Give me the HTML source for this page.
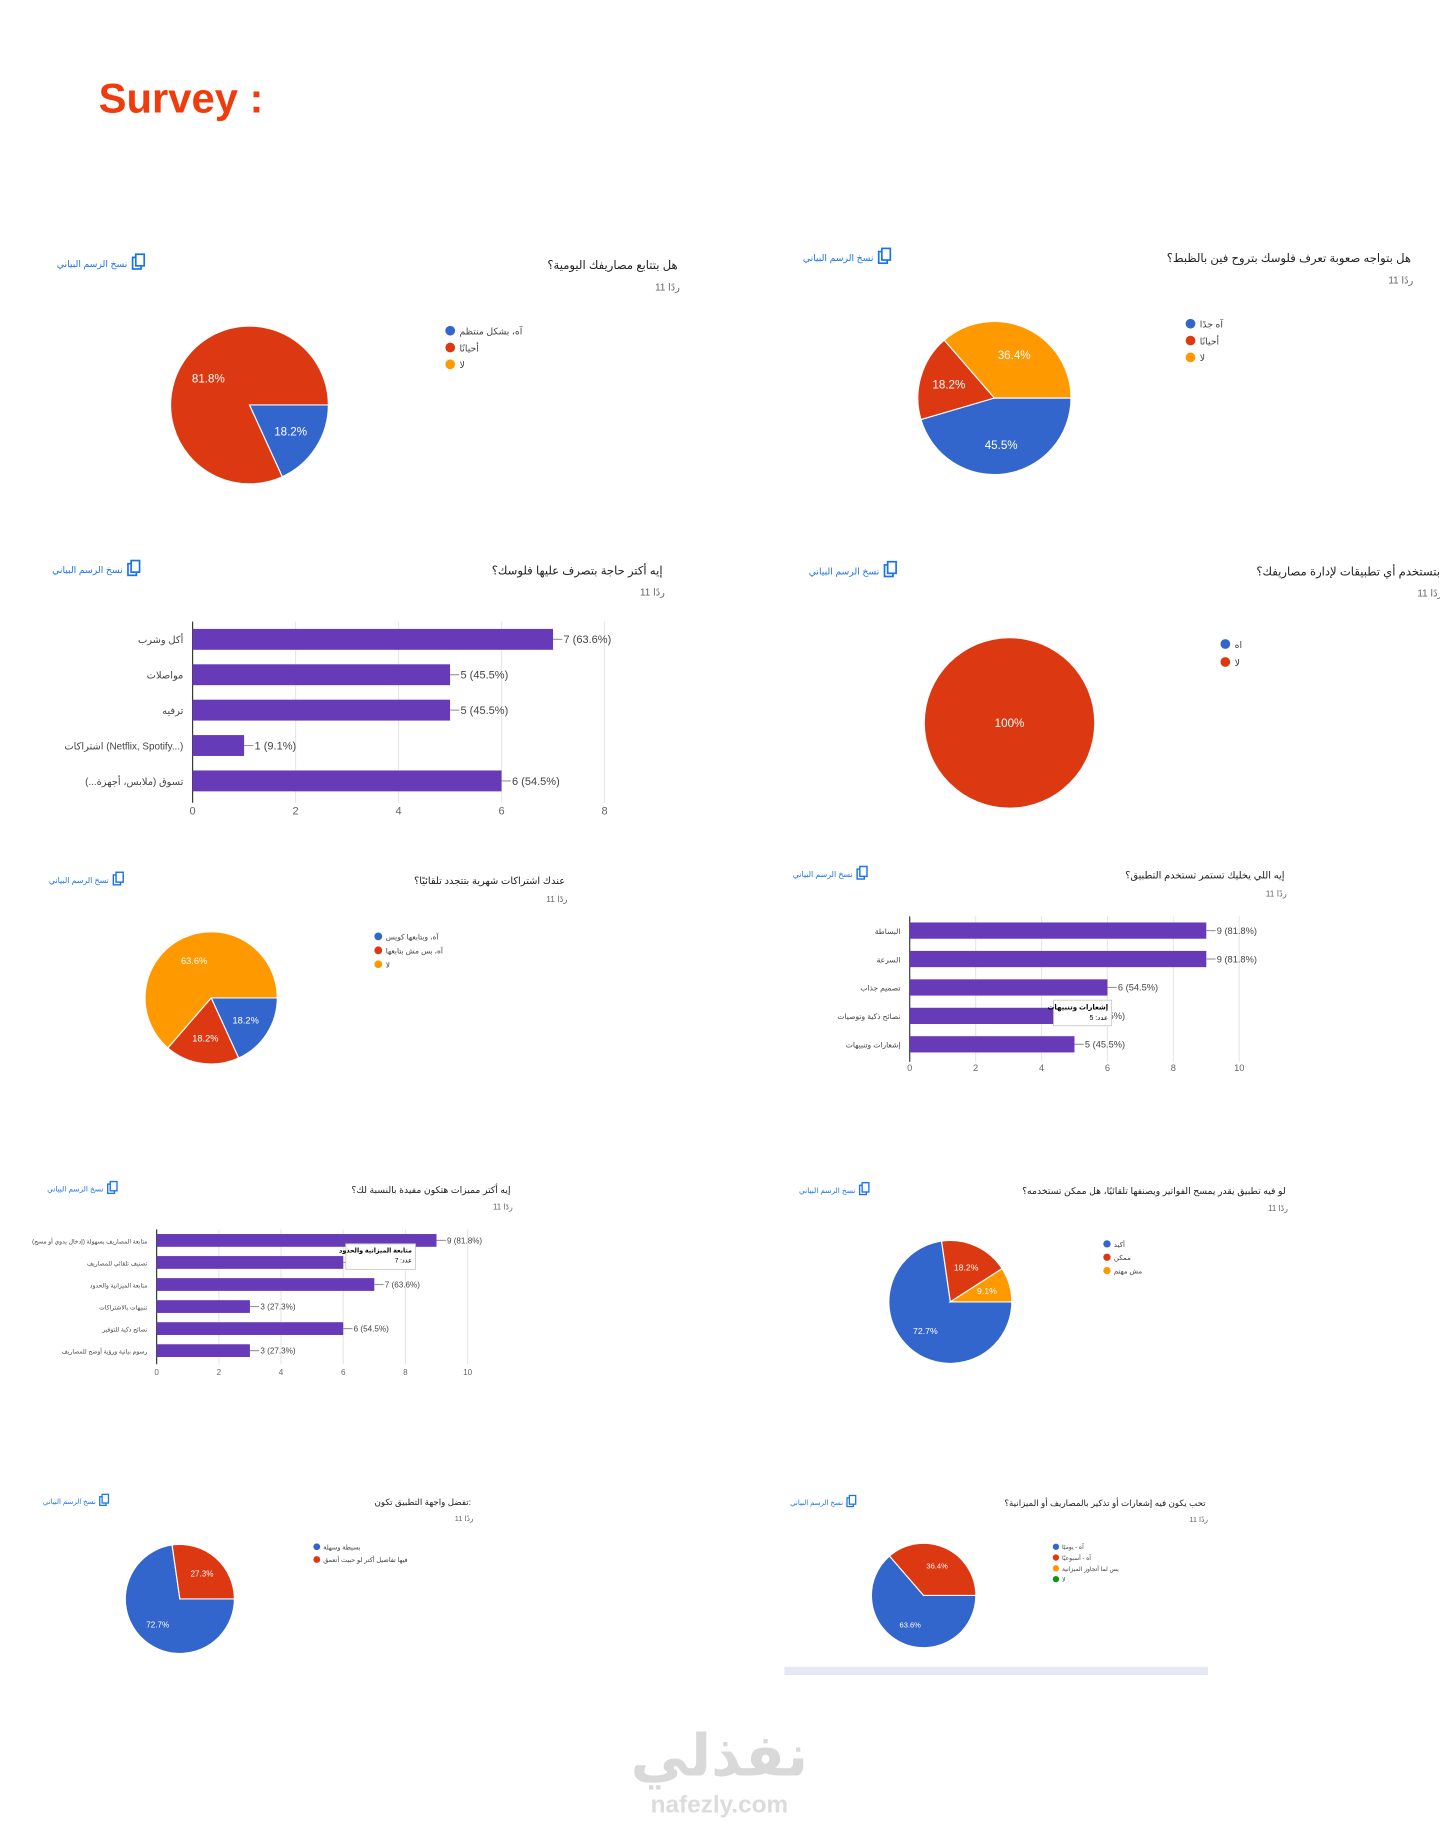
<!DOCTYPE html>
<html><head><meta charset="utf-8">
<style>
html,body{margin:0;padding:0;background:#fff;}
body{width:1440px;height:1820px;overflow:hidden;font-family:"Liberation Sans","DejaVu Sans",sans-serif;}
#wrap{position:absolute;left:0;top:0;width:1241px;height:1568px;transform:scale(1.16035);transform-origin:0 0;}
svg text{font-family:"Liberation Sans","DejaVu Sans",sans-serif;}
</style></head>
<body>
<div id="wrap">
<svg id="s" width="1241" height="1568" viewBox="0 0 1241 1568">
<text x="85" y="97" font-size="36" font-weight="bold" fill="#f03c0c">Survey :</text>
<line x1="676" y1="1440" x2="1041" y2="1440" stroke="#e6e8f4" stroke-width="7"/>
<text x="620" y="1530" font-size="50" font-weight="bold" fill="#d9d9d9" text-anchor="middle">نفذلي</text>
<text x="620" y="1562" font-size="21" font-weight="bold" fill="#dcdcdc" text-anchor="middle">nafezly.com</text>
</svg>
</div>
<script>
// ---- data ----
const pieAValues=[2,9,0];
const pieALabels=["آه، بشكل منتظم","أحيانًا","لا"];
const pieBValues=[5,2,4];
const pieBLabels=["آه جدًا","أحيانًا","لا"];
const pieDValues=[0,11];
const pieDLabels=["اه","لا"];
const pieEValues=[2,2,7];
const pieELabels=["آه، وبتابعها كويس","آه، بس مش بتابعها","لا"];
const pieHValues=[8,2,1];
const pieHLabels=["أكيد","ممكن","مش مهتم"];
const pieIValues=[8,3];
const pieILabels=["بسيطة وسهلة","فيها تفاصيل أكتر لو حبيت أتعمق"];
const pieJValues=[7,4,0,0];
const pieJLabels=["آه - يوميًا","آه - أسبوعيًا","بس لما أتجاوز الميزانية","لا"];
const barCCats=["أكل وشرب","مواصلات","ترفيه","اشتراكات (Netflix, Spotify...)","تسوق (ملابس، أجهزة...)"];
const barCValues=[7,5,5,1,6];
const barCTicks=[0,2,4,6,8];
const barFCats=["البساطة","السرعة","تصميم جذاب","نصائح ذكية وتوصيات","إشعارات وتنبيهات"];
const barFValues=[9,9,6,5,5];
const barFTicks=[0,2,4,6,8,10];
const barGCats=["متابعة المصاريف بسهولة (إدخال يدوي أو مسح)","تصنيف تلقائي للمصاريف","متابعة الميزانية والحدود","تنبيهات بالاشتراكات","نصائح ذكية للتوفير","رسوم بيانية ورؤية أوضح للمصاريف"];
const barGValues=[9,6,7,3,6,3];
const barGTicks=[0,2,4,6,8,10];
const TOTAL=11;
const COLORS=["#3366cc","#dc3912","#ff9900","#109618"];

const NS="http://www.w3.org/2000/svg";
const svg=document.getElementById('s');
function mk(tag,attrs,parent){const e=document.createElementNS(NS,tag);for(const k in attrs)e.setAttribute(k,attrs[k]);(parent||svg).appendChild(e);return e;}
function txt(x,y,s,size,fill,anchor,parent){const t=mk('text',{x:x,y:y,'font-size':size,fill:fill,'text-anchor':anchor||'start'},parent);t.textContent=s;return t;}

function header(g,titleX,titleY,title,linkX,iconX,linkY,fs){
  const t=txt(titleX,titleY,title,fs,'#202124','end',g);
  
  
  const r=txt(titleX+2,titleY+20*fs/11,'11 ردًا',fs*0.85,'#5f6368','end',g);
  
  
  const s=fs/11;
  const l=txt(iconX-8*s,linkY,'نسخ الرسم البياني',fs*0.8,'#1a73e8','end',g);
  
  
  const ic=mk('g',{},g);
  
  
  mk('rect',{x:iconX-3*s,y:linkY-9*s,width:8*s,height:11*s,fill:'none',stroke:'#1a73e8','stroke-width':1.6*s},ic);
  mk('rect',{x:iconX,y:linkY-12*s,width:8*s,height:11*s,fill:'#fff',stroke:'#1a73e8','stroke-width':1.6*s},ic);
}

function pie(name,values,labels,cx,cy,r,legX,legY,legGap,fs){
  const g=mk('g',{});
  
  
  const tot=values.reduce((a,b)=>a+b,0);
  let a=90;
  values.forEach((v,i)=>{
    if(v<=0)return;
    const sweep=v/tot*360;
    let el;
    if(sweep>=359.99){
      el=mk('circle',{cx:cx,cy:cy,r:r,fill:COLORS[i]},g);
    }else{
      const a1=a*Math.PI/180,a2=(a+sweep)*Math.PI/180;
      const x1=cx+r*Math.sin(a1),y1=cy-r*Math.cos(a1),x2=cx+r*Math.sin(a2),y2=cy-r*Math.cos(a2);
      el=mk('path',{d:`M${cx},${cy}L${x1},${y1}A${r},${r} 0 ${sweep>180?1:0} 1 ${x2},${y2}Z`,fill:COLORS[i],stroke:'#fff','stroke-width':1},g);
    }
    
    
    const m=(a+sweep/2)*Math.PI/180;
    const lr=sweep>=359.99?0:r*0.62;
    const t=txt(cx+lr*Math.sin(m),cy-lr*Math.cos(m)+fs*0.35,(v/tot*100).toFixed(1).replace('.0','')+'%',fs,'#fff','middle',g);
    if(sweep>=359.99)t.textContent='100%';
    
    
    a+=sweep;
  });
  labels.forEach((s,i)=>{
    const d=mk('circle',{cx:legX,cy:legY+i*legGap,r:fs*0.42,fill:COLORS[i]},g);
    
    
    const t=txt(legX+fs*0.8,legY+i*legGap+fs*0.33,s,fs*0.8,'#444','start',g);
    
    
  });
}

function bars(name,cats,values,ticks,x0,x1,yTop,step,bh,tickY,fs,catFs){
  const g=mk('g',{});
  
  
  const maxT=ticks[ticks.length-1];
  const X=v=>x0+(x1-x0)*v/maxT;
  const yEnd=yTop+step*cats.length-step*0.5+bh*0.2;
  ticks.forEach(t=>{
    if(t>0){const gl=mk('line',{x1:X(t),x2:X(t),y1:yTop-step*0.5,y2:yEnd,stroke:'#e8e8e8','stroke-width':1},g);
      
      }
    const tl=txt(X(t),tickY,String(t),fs,'#666','middle',g);
    
    
  });
  const ax=mk('line',{x1:x0,x2:x0,y1:yTop-step*0.5,y2:yEnd,stroke:'#333','stroke-width':1},g);
  
  
  cats.forEach((c,i)=>{
    const cy=yTop+i*step;
    const b=mk('rect',{x:x0,y:cy-bh/2,width:X(values[i])-x0,height:bh,fill:'#673ab7'},g);
    
    
    const ln=mk('line',{x1:X(values[i]),x2:X(values[i])+8,y1:cy,y2:cy,stroke:'#999','stroke-width':1},g);
    
    
    const vl=txt(X(values[i])+9,cy+fs*0.35,values[i]+' ('+(values[i]/TOTAL*100).toFixed(1)+'%)',fs,'#444','start',g);
    vl.setAttribute('direction','ltr');
    
    
    const cl=txt(x0-8,cy+fs*0.35,c,catFs||fs*0.9,'#444','end',g);
    
    
  });
  return {g:g,X:X};
}

function tooltip(x,y,w,h,title,val,fs){
  const g=mk('g',{});
  
  
  mk('rect',{x:x,y:y,width:w,height:h,fill:'#fff',stroke:'#ccc','stroke-width':0.8},g);
  txt(x+w-3,y+fs+2,title,fs,'#000','end',g).setAttribute('font-weight','bold');
  txt(x+w-3,y+2*fs+5,'عدد: '+val,fs,'#000','end',g);
}

// Panel A
let gA=mk('g',{});
header(gA,584,232,'هل بتتابع مصاريفك اليومية؟',45,117,230,10);
pie('pie-daily-tracking',pieAValues,pieALabels,215,349,68,388,285,14.5,10);
// Panel B
let gB=mk('g',{});
header(gB,1216,226,'هل بتواجه صعوبة تعرف فلوسك بتروح فين بالظبط؟',688,760,225,10);
pie('pie-money-difficulty',pieBValues,pieBLabels,857,343,66,1026,279,14.5,10);
// Panel C
let gC=mk('g',{});
header(gC,571,495,'إيه أكتر حاجة بتصرف عليها فلوسك؟',40,113,494,10);
bars('bar-top-spending',barCCats,barCValues,barCTicks,166,521,551,30.5,18,702,9.5,8.5);
// Panel D
let gD=mk('g',{});
header(gD,1241,496,'بتستخدم أي تطبيقات لإدارة مصاريفك؟',686,765,495,10);
pie('pie-apps-usage',pieDValues,pieDLabels,870,623,73,1056,555,15.5,10);
// Panel E
let gE=mk('g',{});
header(gE,487,762,'عندك اشتراكات شهرية بتتجدد تلقائيًا؟',40,100,761,8.5);
pie('pie-subscriptions',pieEValues,pieELabels,182,860,57,326,807,12,8);
// Panel F
let gF=mk('g',{});
header(gF,1107,757,'إيه اللي يخليك تستمر تستخدم التطبيق؟',684,741,756,8.5);
bars('bar-keep-using',barFCats,barFValues,barFTicks,784,1068,802,24.5,14,923,8,6.5);
tooltip(908,862,50,22,'إشعارات وتنبيهات',5,6);
// Panel G
let gG=mk('g',{});
header(gG,440,1028,'إيه أكتر مميزات هتكون مفيدة بالنسبة لك؟',40,95,1027,8);
bars('bar-useful-features',barGCats,barGValues,barGTicks,135,403,1069,19,11,1185,7,5.2);
tooltip(298,1072,60,22,'متابعة الميزانية والحدود',7,5.5);
// Panel H
let gH=mk('g',{});
header(gH,1108,1029,'لو فيه تطبيق يقدر يمسح الفواتير ويصنفها تلقائيًا، هل ممكن تستخدمه؟',686,743,1028,8);
pie('pie-receipt-scan',pieHValues,pieHLabels,819,1122,53,954,1072,11.5,7.5);
// Panel I
let gI=mk('g',{});
header(gI,406,1297,'تفضل واجهة التطبيق تكون:',38,88,1296,7.5);
pie('pie-interface-pref',pieIValues,pieILabels,155,1378,47,273,1333,11,7);
// Panel J
let gJ=mk('g',{});
header(gJ,1039,1298,'تحب يكون فيه إشعارات أو تذكير بالمصاريف أو الميزانية؟',684,732,1297,7.5);
pie('pie-alerts',pieJValues,pieJLabels,796,1375,45,910,1333,9.3,6.5);
</script>
</body></html>
